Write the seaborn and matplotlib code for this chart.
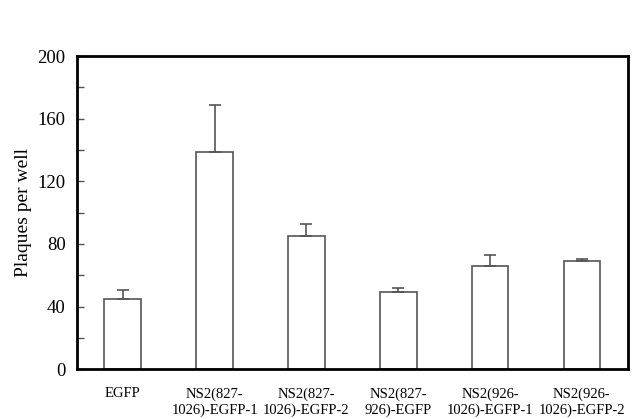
import numpy as np
import pandas as pd
import seaborn as sns
import matplotlib.pyplot as plt

groups = ['EGFP', 'NS2(827-\n1026)-EGFP-1', 'NS2(827-\n1026)-EGFP-2',
          'NS2(827-\n926)-EGFP', 'NS2(926-\n1026)-EGFP-1', 'NS2(926-\n1026)-EGFP-2']
plaques = [45, 139, 85, 49, 66, 69]
err_up = [5.5, 30, 7.5, 3, 7, 1.5]

df = pd.DataFrame({'group': groups, 'plaques': plaques})

sns.set_style("ticks")
plt.rcParams['font.family'] = ['Liberation Serif', 'DejaVu Serif']
plt.rcParams['text.color'] = 'black'
plt.rcParams['axes.labelcolor'] = 'black'

fig = plt.figure(figsize=(6.4, 4.19), dpi=100)
ax = fig.add_axes([0.120, 0.119, 0.861, 0.747])

sns.barplot(x='group', y='plaques', data=df, color='white', edgecolor='#555555',
            linewidth=1.2, width=0.4, errorbar=None, ax=ax)
ax.errorbar(np.arange(len(groups)), plaques, yerr=[np.zeros(len(groups)), err_up],
            fmt='none', ecolor='#555555', elinewidth=1.2, capsize=4, capthick=1.2)

ax.set_ylim(0, 200)
ax.set_xlim(-0.5, 5.5)
ax.set_yticks([0, 40, 80, 120, 160, 200])
ax.set_yticks(np.arange(20, 200, 40), minor=True)
ax.tick_params(axis='y', direction='in', length=5, width=1, labelsize=13.5, pad=8,
               color='#555555', labelcolor='black')
ax.tick_params(axis='y', which='minor', direction='in', length=5, width=1, color='#555555')
ax.tick_params(axis='x', length=0, labelsize=10.5, pad=13, labelcolor='black')
for t in ax.get_xticklabels():
    t.set_linespacing(1.3)
ax.set_xlabel('')
ax.set_ylabel('Plaques per well', fontsize=14, labelpad=4, color='black')
for s in ax.spines.values():
    s.set_linewidth(2)
    s.set_color('black')

fig.savefig('out.png', dpi=100)
